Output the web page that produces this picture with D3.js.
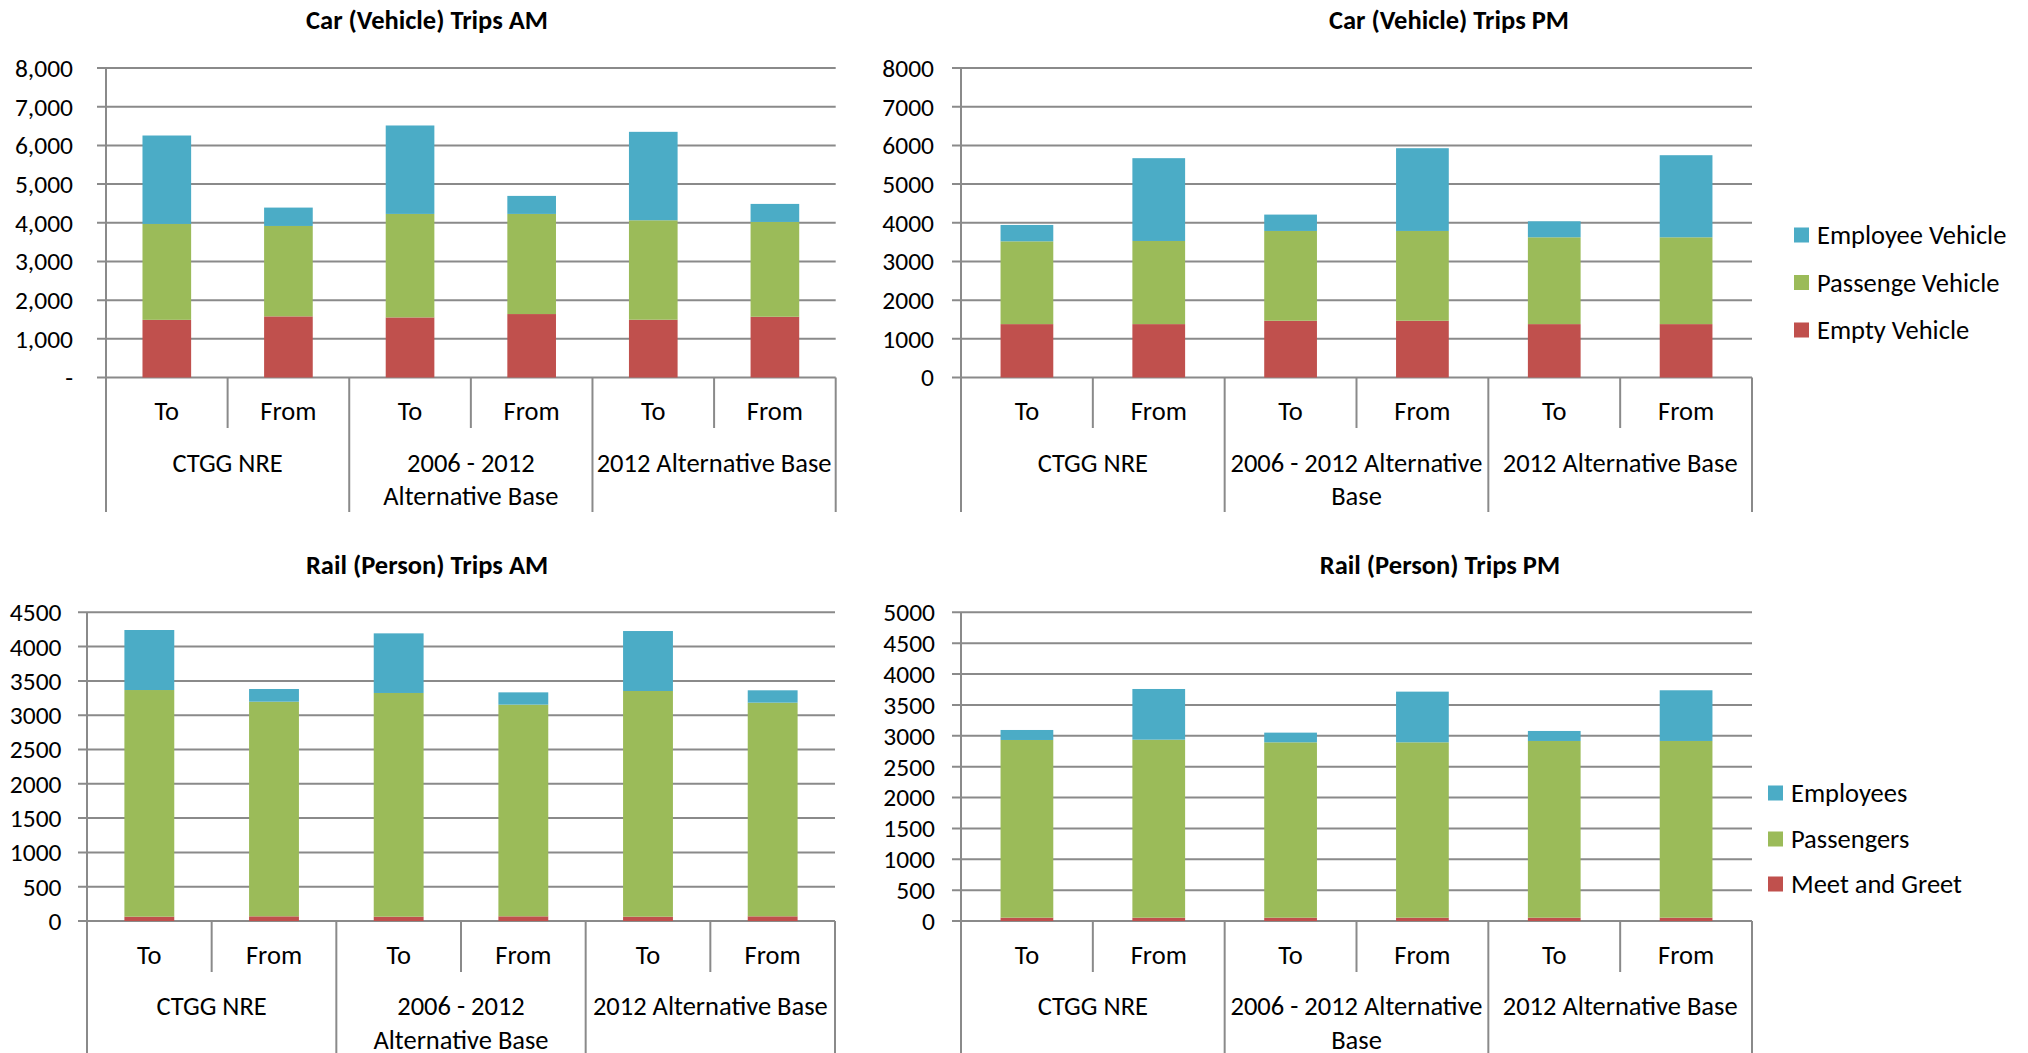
<!DOCTYPE html>
<html>
<head>
<meta charset="utf-8">
<script src="https://cdn.jsdelivr.net/npm/d3@7"></script>
<style>
  html, body { margin: 0; padding: 0; background: #ffffff; }
  svg { display: block; }
  text { font-family: Carlito, Calibri, Lato, "Noto Sans", sans-serif; fill: #000; }
</style>
</head>
<body>
<svg id="chart" width="2028" height="1053"></svg>
<script>
// ---------------- DATA ----------------
const directions = ["To", "From", "To", "From", "To", "From"];
const groupNames = ["CTGG NRE", "2006 - 2012 Alternative Base", "2012 Alternative Base"];

// wrapped group labels (as shown in each chart)
const leftGroupLines = [["CTGG NRE"], ["2006 - 2012", "Alternative Base"], ["2012 Alternative Base"]];
const rightGroupLines = [["CTGG NRE"], ["2006 - 2012 Alternative", "Base"], ["2012 Alternative Base"]];

// Car (Vehicle) Trips AM
const carAMEmpty     = [1490, 1580, 1553, 1640, 1493, 1570];
const carAMPassenger = [2480, 2337, 2675, 2588, 2571, 2451];
const carAMEmployee  = [2285,  475, 2286,  466, 2286,  466];

// Car (Vehicle) Trips PM
const carPMEmpty     = [1380, 1380, 1467, 1467, 1380, 1380];
const carPMPassenger = [2140, 2149, 2321, 2321, 2244, 2244];
const carPMEmployee  = [ 423, 2140,  423, 2139,  414, 2122];

// Rail (Person) Trips AM
const railAMMeet      = [63, 68, 63, 68, 63, 68];
const railAMPassenger = [3304, 3129, 3261, 3086, 3290, 3115];
const railAMEmployee  = [ 875,  185,  869,  179,  874,  180];

// Rail (Person) Trips PM
const railPMMeet      = [54, 54, 54, 54, 54, 54];
const railPMPassenger = [2878, 2883, 2840, 2840, 2862, 2862];
const railPMEmployee  = [ 162,  821,  157,  821,  162,  821];

// tick values and labels
const carTicks = [0, 1000, 2000, 3000, 4000, 5000, 6000, 7000, 8000];
const carAMTickLabels = ["-", "1,000", "2,000", "3,000", "4,000", "5,000", "6,000", "7,000", "8,000"];
const carPMTickLabels = ["0", "1000", "2000", "3000", "4000", "5000", "6000", "7000", "8000"];
const railAMTicks = [0, 500, 1000, 1500, 2000, 2500, 3000, 3500, 4000, 4500];
const railAMTickLabels = ["0", "500", "1000", "1500", "2000", "2500", "3000", "3500", "4000", "4500"];
const railPMTicks = [0, 500, 1000, 1500, 2000, 2500, 3000, 3500, 4000, 4500, 5000];
const railPMTickLabels = ["0", "500", "1000", "1500", "2000", "2500", "3000", "3500", "4000", "4500", "5000"];

const carSeriesNames = ["Empty Vehicle", "Passenge Vehicle", "Employee Vehicle"];
const railSeriesNames = ["Meet and Greet", "Passengers", "Employees"];
const seriesColors = ["#C0504D", "#9BBB59", "#4BACC6"];

// ---------------- LAYOUT ----------------
const FONT = 26.5;
const TICKFONT = 25.5;
const TITLEFONT = 26.5;
const GRID = "#8a8a8a";
const svg = d3.select("#chart");

function buildRows(a, b, c) {
  return directions.map((d, i) => ({ idx: i, s0: a[i], s1: b[i], s2: c[i] }));
}

const charts = [
  { title: "Car (Vehicle) Trips AM", titleX: 427, titleY: 29,
    x0: 106, x1: 835.7, yTop: 68, yZero: 377.5, max: 8000,
    ticks: carTicks, tickLabels: carAMTickLabels, labelX: 73,
    innerBottom: 428, outerBottom: 512, groupLines: leftGroupLines,
    rows: buildRows(carAMEmpty, carAMPassenger, carAMEmployee), legend: null },
  { title: "Car (Vehicle) Trips PM", titleX: 1449, titleY: 29,
    x0: 961, x1: 1752, yTop: 68, yZero: 377.5, max: 8000,
    ticks: carTicks, tickLabels: carPMTickLabels, labelX: 934,
    innerBottom: 428, outerBottom: 512, groupLines: rightGroupLines,
    rows: buildRows(carPMEmpty, carPMPassenger, carPMEmployee),
    legend: { names: carSeriesNames, swX: 1794, textX: 1817, yCenters: [235, 282.5, 330] } },
  { title: "Rail (Person) Trips AM", titleX: 427, titleY: 573.5,
    x0: 87, x1: 835, yTop: 612.3, yZero: 921, max: 4500,
    ticks: railAMTicks, tickLabels: railAMTickLabels, labelX: 61.5,
    innerBottom: 972, outerBottom: 1056, groupLines: leftGroupLines,
    rows: buildRows(railAMMeet, railAMPassenger, railAMEmployee), legend: null },
  { title: "Rail (Person) Trips PM", titleX: 1440, titleY: 573.5,
    x0: 961, x1: 1752, yTop: 612.3, yZero: 921, max: 5000,
    ticks: railPMTicks, tickLabels: railPMTickLabels, labelX: 935,
    innerBottom: 972, outerBottom: 1056, groupLines: rightGroupLines,
    rows: buildRows(railPMMeet, railPMPassenger, railPMEmployee),
    legend: { names: railSeriesNames, swX: 1768, textX: 1791, yCenters: [793, 839, 884] } }
];

charts.forEach(cfg => {
  const g = svg.append("g");
  const x = d3.scaleBand().domain(d3.range(6)).range([cfg.x0, cfg.x1])
    .paddingInner(0.6).paddingOuter(0.3);
  const step = (cfg.x1 - cfg.x0) / 6;
  const y = d3.scaleLinear().domain([0, cfg.max]).range([cfg.yZero, cfg.yTop]);

  // title
  g.append("text").attr("x", cfg.titleX).attr("y", cfg.titleY)
    .attr("text-anchor", "middle").attr("font-weight", "bold")
    .attr("font-size", TITLEFONT).text(cfg.title);

  // gridlines with outward ticks
  g.append("g").selectAll("line").data(cfg.ticks).join("line")
    .attr("x1", cfg.x0 - 9).attr("x2", cfg.x1)
    .attr("y1", d => y(d)).attr("y2", d => y(d))
    .attr("stroke", GRID).attr("stroke-width", 2);

  // y tick labels
  g.append("g").selectAll("text").data(cfg.ticks).join("text")
    .attr("x", cfg.labelX).attr("y", d => y(d))
    .attr("dy", "0.35em").attr("text-anchor", "end")
    .attr("font-size", TICKFONT)
    .text((d, i) => cfg.tickLabels[i]);

  // stacked bars
  const stack = d3.stack().keys(["s0", "s1", "s2"]);
  const layers = stack(cfg.rows);
  g.append("g").selectAll("g").data(layers).join("g")
    .attr("fill", (d, i) => seriesColors[i])
    .selectAll("rect").data(d => d).join("rect")
    .attr("x", d => x(d.data.idx))
    .attr("width", x.bandwidth())
    .attr("y", d => y(d[1]))
    .attr("height", d => y(d[0]) - y(d[1]));

  // vertical value axis
  g.append("line").attr("x1", cfg.x0).attr("x2", cfg.x0)
    .attr("y1", cfg.yTop).attr("y2", cfg.yZero)
    .attr("stroke", GRID).attr("stroke-width", 2);

  // category axis separators
  g.append("g").selectAll("line").data(d3.range(7)).join("line")
    .attr("x1", i => cfg.x0 + i * step).attr("x2", i => cfg.x0 + i * step)
    .attr("y1", cfg.yZero)
    .attr("y2", i => (i % 2 === 0 ? cfg.outerBottom : cfg.innerBottom))
    .attr("stroke", GRID).attr("stroke-width", 2);

  // inner labels (To / From)
  g.append("g").selectAll("text").data(cfg.rows).join("text")
    .attr("x", d => x(d.idx) + x.bandwidth() / 2)
    .attr("y", cfg.yZero + 42.5)
    .attr("text-anchor", "middle").attr("font-size", FONT)
    .text(d => directions[d.idx]);

  // group labels
  const gl = g.append("g").selectAll("text").data(cfg.groupLines).join("text")
    .attr("text-anchor", "middle").attr("font-size", FONT);
  gl.selectAll("tspan").data((lines, gi) => lines.map(l => ({ l, gi }))).join("tspan")
    .attr("x", d => cfg.x0 + (d.gi * 2 + 1) * step)
    .attr("y", (d, li) => cfg.yZero + 94 + li * 33.5)
    .text(d => d.l);

  // legend
  if (cfg.legend) {
    const order = [2, 1, 0];
    const lg = g.append("g").selectAll("g").data(order).join("g");
    lg.append("rect")
      .attr("x", cfg.legend.swX)
      .attr("y", (d, i) => cfg.legend.yCenters[i] - 7.5)
      .attr("width", 15).attr("height", 15)
      .attr("fill", d => seriesColors[d]);
    lg.append("text")
      .attr("x", cfg.legend.textX)
      .attr("y", (d, i) => cfg.legend.yCenters[i])
      .attr("dy", "0.35em").attr("font-size", FONT)
      .text(d => cfg.legend.names[d]);
  }
});
</script>
</body>
</html>
